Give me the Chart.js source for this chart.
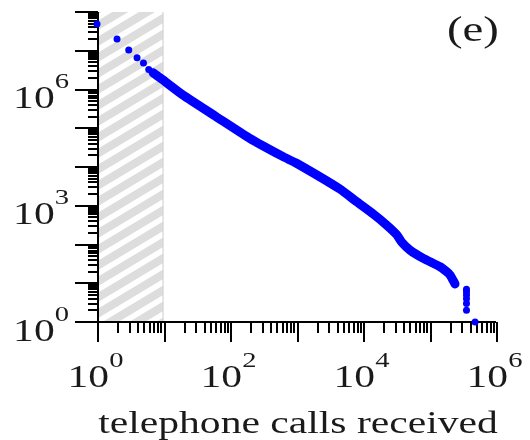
<!DOCTYPE html>
<html>
<head>
<meta charset="utf-8">
<script src="https://cdn.jsdelivr.net/npm/chart.js@4.4.1/dist/chart.umd.min.js"></script>
<style>
  html, body { margin: 0; padding: 0; background: #fff; }
  #wrap { width: 530px; height: 440px; }
</style>
</head>
<body>
<div id="wrap"><canvas id="myChart" width="530" height="440"></canvas></div>
<script>
const headCalls = [1, 2, 3, 4, 5, 6, 7, 8];
const headCounts = [4.9e7, 2.0e7, 1.05e7, 6.6e6, 4.8e6, 3.3e6, 2.7e6, 2.2e6];

const bandCalls = [7, 9.8, 19.6, 62, 198, 629, 1000, 4490, 8010, 14250, 22660, 32060, 38130, 50830, 80650, 143900, 180000, 203600, 242000];
const bandCounts = [2.7e6, 1.76e6, 7.2e5, 1.99e5, 5.5e4, 1.85e4, 1.25e4, 2700, 1273, 612, 318, 180, 115, 72, 44, 26.7, 20, 16.3, 9.6];

const tailCalls = [360000, 360000, 360000, 360000, 360000, 360000, 485000];
const tailCounts = [7, 6, 5, 4, 3, 2, 1];

const xDecades = [0, 1, 2, 3, 4, 5, 6];
const xLabelDecades = [0, 2, 4, 6];
const yDecades = [0, 1, 2, 3, 4, 5, 6, 7, 8];
const yLabelDecades = [0, 3, 6];

const xTitle = 'telephone calls received';
const panelTag = '(e)';

const blue = 'rgb(0, 0, 255)';
const serif = "'Liberation Serif', 'Times New Roman', serif";
const stretch = 1.3;

const toPoints = (xs, ys) => xs.map((x, i) => ({ x, y: ys[i] }));

const drawText = (ctx, text, x, y, size) => {
  ctx.save();
  ctx.font = `${size}px ${serif}`;
  ctx.translate(x, y);
  ctx.scale(stretch, 1);
  ctx.textAlign = 'left';
  ctx.textBaseline = 'alphabetic';
  ctx.fillText(text, 0, 0);
  ctx.restore();
};

const textWidth = (ctx, text, size) => {
  ctx.save();
  ctx.font = `${size}px ${serif}`;
  const w = ctx.measureText(text).width * stretch;
  ctx.restore();
  return w;
};

const powerLabel = (ctx, exp, x, y, align) => {
  const wBase = textWidth(ctx, '10', 32);
  const wExp = textWidth(ctx, String(exp), 22);
  let start = x;
  if (align === 'center') start = x - (wBase + wExp) / 2 - 1.5;
  if (align === 'right') start = x - wBase - wExp;
  drawText(ctx, '10', start, y, 32);
  drawText(ctx, String(exp), start + wBase, y - 20, 22);
};

const axesPlugin = {
  id: 'axes',
  beforeDatasetsDraw(chart) {
    const { ctx, chartArea, scales } = chart;
    const xs = scales.x;
    const ys = scales.y;
    const x0 = xs.getPixelForValue(1);
    const x1 = xs.getPixelForValue(10);
    const top = chartArea.top;
    const bottom = chartArea.bottom;

    ctx.save();
    ctx.beginPath();
    ctx.rect(x0, top, x1 - x0, bottom - top);
    ctx.clip();
    ctx.fillStyle = '#dddddd';
    ctx.fillRect(x0, top, x1 - x0, bottom - top);
    ctx.strokeStyle = '#ffffff';
    ctx.lineWidth = 5.5;
    const slope = 0.6;
    for (let c = top - 10; c < bottom + 60; c += 16) {
      ctx.beginPath();
      ctx.moveTo(x0 - 5, c + 5 * slope);
      ctx.lineTo(x1 + 5, c - (x1 - x0 + 5) * slope);
      ctx.stroke();
    }
    ctx.restore();

    ctx.save();
    ctx.strokeStyle = '#cfcfcf';
    ctx.lineWidth = 1;
    ctx.beginPath();
    ctx.moveTo(x1 - 0.5, top);
    ctx.lineTo(x1 - 0.5, bottom);
    ctx.stroke();
    ctx.restore();

    const axisX = chartArea.left + 1;
    const axisY = chartArea.bottom;
    ctx.save();
    ctx.strokeStyle = '#000';
    ctx.lineWidth = 2;
    ctx.beginPath();
    ctx.moveTo(axisX, chartArea.top);
    ctx.lineTo(axisX, axisY);
    ctx.moveTo(chartArea.left, axisY);
    ctx.lineTo(xs.getPixelForValue(1e6), axisY);
    ctx.stroke();

    ctx.beginPath();
    yDecades.forEach((d) => {
      const py = Math.round(ys.getPixelForValue(10 ** d));
      ctx.moveTo(axisX - 23, py);
      ctx.lineTo(axisX, py);
      if (d < 8) {
        for (let m = 2; m <= 9; m++) {
          const my = Math.round(ys.getPixelForValue(m * 10 ** d));
          ctx.moveTo(axisX - 10, my);
          ctx.lineTo(axisX, my);
        }
      }
    });
    xDecades.forEach((d) => {
      const px = Math.round(xs.getPixelForValue(10 ** d)) + 1;
      ctx.moveTo(px, axisY);
      ctx.lineTo(px, axisY + 20);
      if (d < 6) {
        for (let m = 2; m <= 9; m++) {
          const mx = Math.round(xs.getPixelForValue(m * 10 ** d)) + 1;
          ctx.moveTo(mx, axisY);
          ctx.lineTo(mx, axisY + 11);
        }
      }
    });
    ctx.stroke();

    ctx.fillStyle = '#1a1a1a';
    yLabelDecades.forEach((d) => {
      const py = ys.getPixelForValue(10 ** d);
      powerLabel(ctx, d, 69, py + 18.5, 'right');
    });
    xLabelDecades.forEach((d) => {
      const px = xs.getPixelForValue(10 ** d);
      powerLabel(ctx, d, px, 387, 'center');
    });

    const tw = textWidth(ctx, xTitle, 32);
    drawText(ctx, xTitle, 298 - tw / 2, 433, 32);
    drawText(ctx, panelTag, 447, 41, 36);
    ctx.restore();
  },
};

const ctx = document.getElementById('myChart');

new Chart(ctx, {
  type: 'scatter',
  data: {
    datasets: [
      {
        label: 'band',
        data: toPoints(bandCalls, bandCounts),
        showLine: true,
        borderColor: blue,
        borderWidth: 9,
        borderCapStyle: 'round',
        borderJoinStyle: 'round',
        pointRadius: 0,
        tension: 0.2,
        clip: false,
      },
      {
        label: 'head',
        data: toPoints(headCalls, headCounts),
        backgroundColor: blue,
        borderColor: blue,
        borderWidth: 0,
        pointRadius: 3.5,
        clip: false,
      },
      {
        label: 'tail',
        data: toPoints(tailCalls, tailCounts),
        backgroundColor: blue,
        borderColor: blue,
        borderWidth: 0,
        pointRadius: 3.5,
        clip: false,
      },
    ],
  },
  options: {
    responsive: false,
    animation: false,
    devicePixelRatio: 1,
    layout: { padding: { left: 97, right: 34, top: 12, bottom: 118 } },
    plugins: { legend: { display: false }, tooltip: { enabled: false } },
    scales: {
      x: { type: 'logarithmic', min: 1, max: 1e6, display: false },
      y: { type: 'logarithmic', min: 1, max: 1e8, display: false },
    },
  },
  plugins: [axesPlugin],
});
</script>
</body>
</html>
